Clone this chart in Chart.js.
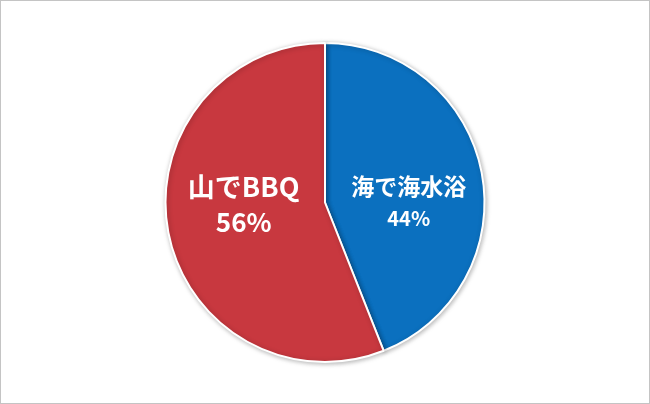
<!DOCTYPE html>
<html>
<head>
<meta charset="utf-8">
<script src="https://cdn.jsdelivr.net/npm/chart.js@4/dist/chart.umd.min.js"></script>
<style>
  html, body { margin: 0; padding: 0; background: #fff; }
  #wrap {
    position: relative;
    width: 648px;
    height: 402px;
    border: 1px solid #c4c4c4;
  }
</style>
</head>
<body>
<div id="wrap"><canvas id="myChart"></canvas></div>
<script>
// data
var labels = ["海で海水浴", "山でBBQ"];
var shares = [44, 56];
var sliceColors = ["#0B70BF", "#C8383F"];
var percentLabels = ["44%", "56%"];

// label font sizes per slice [name line, percent line]
var labelFonts = [[23, 20], [27, 26]];

// soft shadow round the pie, like the original
var shadowPlugin = {
  id: "pieShadow",
  beforeDatasetDraw: function (chart) {
    var ctx = chart.ctx;
    ctx.save();
    ctx.shadowColor = "rgba(0,0,0,0.28)";
    ctx.shadowBlur = 5;
    ctx.shadowOffsetX = 1;
    ctx.shadowOffsetY = 1;
  },
  afterDatasetDraw: function (chart) {
    chart.ctx.restore();
  }
};

// white labels inside each slice
var sliceLabels = {
  id: "sliceLabels",
  afterDatasetsDraw: function (chart) {
    var ctx = chart.ctx;
    var meta = chart.getDatasetMeta(0);
    meta.data.forEach(function (arc, i) {
      var p = arc.getProps(["x", "y", "startAngle", "endAngle", "outerRadius"], true);
      var mid = (p.startAngle + p.endAngle) / 2;
      var dir = Math.cos(mid) >= 0 ? 1 : -1;
      var x = p.x + dir * p.outerRadius * (i == 0 ? 0.525 : 0.51);
      var y = p.y;
      ctx.save();
      ctx.fillStyle = "#ffffff";
      ctx.textAlign = "center";
      ctx.textBaseline = "middle";
      ctx.font = "bold " + labelFonts[i][0] + "px 'Noto Sans CJK JP', sans-serif";
      ctx.fillText(labels[i], x, y - 16);
      ctx.font = "bold " + labelFonts[i][1] + "px 'Noto Sans CJK JP', sans-serif";
      ctx.fillText(percentLabels[i], x, y + (i == 0 ? 16 : 20));
      ctx.restore();
    });
  }
};

var chartCtx = document.getElementById("myChart").getContext("2d");
var myChart = new Chart(chartCtx, {
  type: "pie",
  data: {
    labels: labels,
    datasets: [
      {
        data: shares,
        backgroundColor: sliceColors,
        borderColor: "#ffffff",
        borderWidth: 2
      }
    ]
  },
  options: {
    responsive: true,
    maintainAspectRatio: false,
    animation: false,
    layout: {
      padding: { top: 41, bottom: 40, left: 10, right: 10 }
    },
    plugins: {
      legend: { display: false },
      tooltip: { enabled: false }
    }
  },
  plugins: [shadowPlugin, sliceLabels]
});
</script>
</body>
</html>
